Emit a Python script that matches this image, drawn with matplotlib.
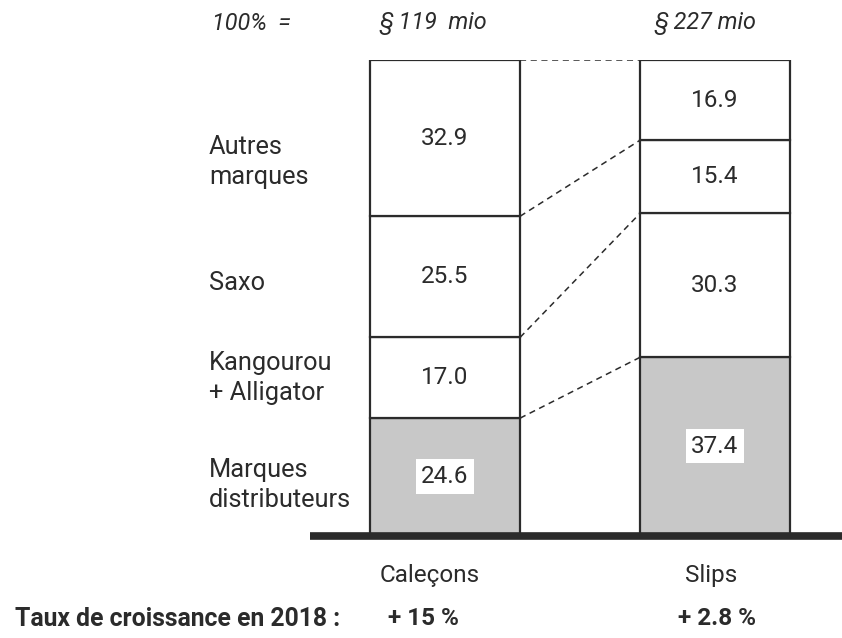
import numpy as np
import matplotlib.pyplot as plt

plt.rcParams['font.family'] = ['Roboto', 'DejaVu Sans']

# parts de marché (%) par segment, du bas vers le haut
segments = ['Marques\ndistributeurs', 'Kangourou\n+ Alligator', 'Saxo', 'Autres\nmarques']
calecons = [24.6, 17.0, 25.5, 32.9]
slips = [37.4, 30.3, 15.4, 16.9]
products = ['Caleçons', 'Slips']
totals = ['§ 119  mio', '§ 227 mio']
growth = ['+ 15 %', '+ 2.8 %']
label_y = [10.5, 33.0, 53.0, 78.5]

ink = '#2b2b2b'
grey = '#c8c8c8'
w = 0.556
px = 1 / 270  # largeur d'un pixel en unités x

fig = plt.figure(figsize=(8.42, 6.38), dpi=100)
ax = fig.add_axes([0, 103 / 638, 1, 475 / 638])
ax.set_xlim(-445 * px, 397 * px)
ax.set_ylim(0, 100)
ax.axis('off')

# décalages horizontaux des textes sous / au-dessus des barres
total_dx = [-12 * px, -10 * px]
prod_dx = [-15 * px, -4 * px]
growth_dx = [-22 * px, 2 * px]

for i, vals in enumerate([calecons, slips]):
    bottoms = np.concatenate([[0], np.cumsum(vals)[:-1]])
    colors = [grey] + ['white'] * (len(vals) - 1)
    ax.bar(i, vals, bottom=bottoms, width=w, color=colors, edgecolor=ink,
           linewidth=1.6, zorder=2)
    for j, (v, b) in enumerate(zip(vals, bottoms)):
        box = dict(facecolor='white', edgecolor='none', pad=4) if j == 0 else None
        ax.text(i, b + v / 2, f'{v:.1f}', ha='center', va='center',
                fontsize=17.5, color=ink, bbox=box, zorder=3)
    ax.text(i + total_dx[i], 107.6, totals[i], ha='center', va='center', fontsize=16.8,
            style='italic', color=ink, clip_on=False)
    ax.text(i + prod_dx[i], -8.6, products[i], ha='center', va='center', fontsize=17.5,
            color=ink, clip_on=False)
    ax.text(i + growth_dx[i], -17.6, growth[i], ha='center', va='center', fontsize=17.5,
            fontweight='bold', color=ink, clip_on=False)

# lignes pointillées entre les sommets des segments
top_l = np.cumsum(calecons)
top_r = np.cumsum(slips)
for a, b in zip(top_l, top_r):
    ax.plot([w / 2, 1 - w / 2], [a, b], ls=(0, (4, 3)), color=ink, lw=1.1, zorder=1)

for s, y in zip(segments, label_y):
    ax.text(-236 * px, y, s, ha='left', va='center', fontsize=18.3, color=ink,
            linespacing=1.32)

ax.text(-233 * px, 107.6, '100%  =', ha='left', va='center', fontsize=16.8,
        style='italic', color=ink, clip_on=False)
ax.text(-430 * px, -17.6, 'Taux de croissance en 2018 :', ha='left', va='center',
        fontsize=17.8, fontweight='bold', color=ink, clip_on=False)

# ligne de base épaisse
ax.plot([-135 * px, 397 * px], [-0.3, -0.3], color=ink, lw=5.5,
        solid_capstyle='butt', clip_on=False, zorder=4)

fig.savefig('out.png', dpi=100)
